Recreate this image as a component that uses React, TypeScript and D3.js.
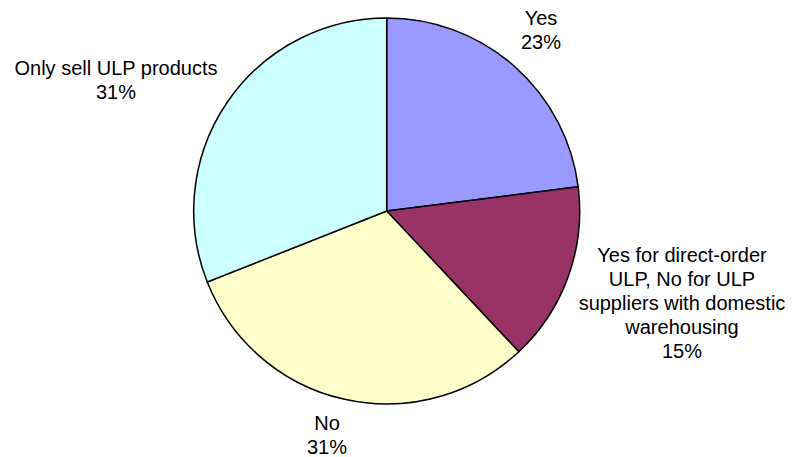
import React from "react";
import * as d3 from "d3";

const categories = [
  "Yes",
  "Yes for direct-order ULP, No for ULP suppliers with domestic warehousing",
  "No",
  "Only sell ULP products",
];
const values = [23, 15, 31, 31];
const percentLabels = ["23%", "15%", "31%", "31%"];
const labelLines = [
  ["Yes"],
  ["Yes for direct-order", "ULP, No for ULP", "suppliers with domestic", "warehousing"],
  ["No"],
  ["Only sell ULP products"],
];
const colors = ["#9999FF", "#993366", "#FFFFCC", "#CCFFFF"];

const W = 792;
const H = 457;
const cx = 386.7;
const cy = 211;
const R = 193;
// label anchor (center x, last-line baseline y)
const labelPos = [
  { x: 541, y: 49 },
  { x: 682, y: 358 },
  { x: 327, y: 454 },
  { x: 116, y: 99 },
];
const lineH = 24;

export default function App() {
  const pie = d3
    .pie<number>()
    .sort(null)
    .value((d) => d);
  const arcs = pie(values);
  const arcGen = d3.arc<d3.PieArcDatum<number>>().innerRadius(0).outerRadius(R);

  return (
    <svg
      width={W}
      height={H}
      style={{ position: "absolute", left: 0, top: 0 }}
      fontFamily="'Liberation Sans', Arial, sans-serif"
    >
      <rect width={W} height={H} fill="#ffffff" />
      <g transform={`translate(${cx},${cy})`}>
        {arcs.map((a, i) => (
          <path
            key={categories[i]}
            d={arcGen(a) || ""}
            fill={colors[i]}
            stroke="#000"
            strokeWidth={1.5}
            strokeLinejoin="round"
          />
        ))}
      </g>
      {labelLines.map((lines, i) => {
        const all = [...lines, percentLabels[i]];
        const n = all.length;
        return (
          <text
            key={i}
            x={labelPos[i].x}
            textAnchor="middle"
            fontSize={20}
            fill="#000"
          >
            {all.map((l, j) => (
              <tspan key={j} x={labelPos[i].x} y={labelPos[i].y - (n - 1 - j) * lineH}>
                {l}
              </tspan>
            ))}
          </text>
        );
      })}
    </svg>
  );
}
